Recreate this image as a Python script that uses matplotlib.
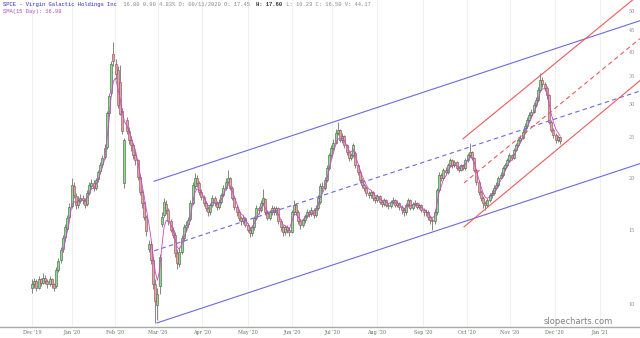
import matplotlib
matplotlib.use('Agg')
import matplotlib.pyplot as plt
import matplotlib.transforms as mtransforms
import numpy as np
import pandas as pd

# daily candles, SPCE, Dec '19 .. Dec '20
opens = [
    11.0, 11.2, 11.4, 11.0, 11.5, 11.3, 11.6, 11.4, 11.2, 11.5, 11.2,
    11.1, 12.1, 12.8, 13.6, 14.5, 15.2, 16.2, 17.2, 19.2, 18.2,
    17.3, 17.7, 18.0, 17.8, 17.4, 18.5, 19.2, 19.5, 19.0, 19.9,
    20.8, 21.6, 22.5,
    23.8, 28.6, 32.0, 39.5, 37.5, 36.2, 34.0, 29.0,
    19.5, 27.5, 26.0, 24.7, 24.0, 22.7, 22.1, 20.2, 18.6, 17.5, 16.2, 13.6, 14.0, 12.8, 11.2, 10.0, 11.1, 15.6, 16.4,
    17.4, 16.8, 15.8, 15.1, 14.7, 13.3, 12.5, 13.4, 14.4, 15.3,
    15.6, 16.0, 17.5, 19.2, 20.0, 19.5, 18.6, 18.1, 17.5, 17.0,
    16.6, 17.3, 18.0, 17.5, 17.1, 17.6, 18.3, 19.0, 19.6, 20.0,
    19.0, 18.0, 17.1, 16.6, 16.1, 15.8, 16.1, 15.5, 15.1, 14.8,
    15.3, 16.1, 17.0, 16.8, 17.5, 17.9, 16.6, 16.1, 16.6, 17.0,
    16.6, 17.0, 15.8, 15.3, 14.9, 15.3, 15.1, 14.9, 16.6, 17.3,
    16.6, 15.8, 15.5, 15.9, 16.3, 16.6, 16.5, 16.8, 16.4, 17.0,
    17.6, 19.2, 19.0, 19.8, 21.2, 22.7, 23.6, 24.3, 25.7, 26.1,
    24.7, 25.2, 24.0, 23.1, 22.4, 22.7, 23.0, 21.5, 20.7, 19.8,
    19.3, 19.0, 18.5, 18.3, 18.6, 18.0, 17.8, 18.2, 17.6, 17.4,
    17.8, 17.3, 17.2, 17.6, 17.8, 17.3, 17.5, 17.1, 16.8, 16.6,
    17.3, 17.8, 17.0, 17.4, 17.5, 17.1, 17.3, 16.8, 16.6, 16.6,
    16.2, 15.9, 15.8, 16.6, 18.8, 20.4, 20.0, 21.0, 20.7, 21.5,
    22.1, 21.5, 21.9, 21.2, 21.0, 21.5, 21.2, 22.1, 22.7, 23.1,
    22.4, 21.0, 19.6, 18.6, 18.0, 17.5, 17.3, 17.8, 18.3, 18.5,
    19.0, 19.3, 20.1, 20.4, 21.2, 21.5, 22.1, 22.7, 22.4, 23.4,
    24.0, 24.7, 25.0, 25.8, 26.7, 27.6, 28.3, 28.8, 29.9, 30.7,
    32.5, 34.3, 33.5, 32.8, 31.6, 27.2, 26.1, 25.4, 24.7, 25.1,
]
highs = [
    11.5, 11.6, 11.5, 11.7, 11.6, 11.9, 11.8, 11.5, 11.7, 11.6, 11.3,
    12.3, 12.9, 13.7, 14.7, 15.6, 16.4, 17.5, 20.0, 19.6, 18.5,
    18.2, 18.4, 18.3, 18.0, 18.8, 19.6, 19.9, 19.8, 20.1, 21.0,
    21.9, 22.8, 24.1,
    29.0, 32.0, 38.0, 42.3, 38.5, 37.0, 37.2, 29.5,
    25.0, 28.0, 26.5, 25.2, 24.3, 23.2, 22.3, 20.5, 18.9, 17.7, 16.4, 14.3, 14.2, 13.0, 11.5, 11.0, 13.2, 16.6, 18.0,
    17.8, 17.0, 16.0, 15.3, 14.9, 13.6, 13.7, 14.7, 15.6, 15.8,
    16.2, 17.8, 19.6, 20.6, 20.4, 19.7, 18.9, 18.3, 17.7, 17.2,
    17.5, 18.3, 18.2, 17.7, 17.9, 18.5, 19.3, 20.0, 21.0, 20.2,
    19.2, 18.2, 17.3, 16.8, 16.3, 16.4, 16.2, 15.7, 15.3, 15.5,
    16.3, 17.3, 17.2, 17.8, 18.9, 18.0, 16.8, 16.8, 17.3, 17.2,
    17.2, 17.1, 16.0, 15.5, 15.5, 15.5, 15.3, 16.8, 17.8, 17.5,
    16.8, 16.0, 16.1, 16.5, 16.9, 16.8, 17.1, 17.0, 17.3, 18.3,
    19.5, 19.6, 20.2, 21.5, 23.0, 24.0, 24.8, 26.2, 27.3, 26.3,
    25.6, 25.4, 24.2, 23.3, 23.0, 24.3, 23.2, 21.7, 20.9, 20.0,
    19.5, 19.2, 18.7, 18.8, 18.7, 18.2, 18.4, 18.3, 17.8, 18.0,
    17.9, 17.5, 17.8, 18.1, 17.9, 17.8, 17.6, 17.3, 17.0, 17.5,
    18.0, 17.9, 17.6, 17.8, 17.6, 17.5, 17.4, 17.0, 16.9, 16.8,
    16.3, 16.1, 16.8, 19.0, 20.7, 20.6, 21.2, 21.3, 21.8, 22.4,
    22.2, 22.1, 22.0, 21.4, 21.7, 21.7, 22.4, 23.0, 24.3, 23.3,
    22.5, 21.1, 19.8, 18.8, 18.2, 17.7, 18.0, 18.5, 18.8, 19.3,
    19.6, 20.3, 20.7, 21.4, 21.8, 22.4, 23.0, 22.9, 23.7, 24.3,
    25.0, 25.4, 26.2, 27.1, 28.0, 28.8, 29.3, 30.4, 31.3, 33.0,
    35.6, 34.8, 34.0, 33.2, 31.8, 27.5, 26.4, 25.7, 25.4, 25.3,
]
lows = [
    10.7, 11.0, 10.8, 10.9, 11.1, 11.2, 11.2, 11.0, 11.1, 11.0, 10.8,
    11.0, 12.0, 12.6, 13.4, 14.2, 15.0, 16.0, 17.0, 18.0, 16.9,
    17.0, 17.5, 17.4, 17.0, 17.2, 18.3, 18.9, 18.7, 18.8, 19.6,
    20.5, 21.3, 22.2,
    23.5, 28.2, 31.5, 37.0, 34.5, 29.5, 28.3, 25.5,
    19.0, 25.5, 24.2, 23.3, 22.2, 21.5, 19.8, 18.3, 17.0, 15.9, 14.6, 13.4, 12.5, 10.9, 9.06, 9.2, 10.6, 15.3, 16.2,
    16.5, 15.5, 14.9, 14.4, 13.0, 12.2, 12.3, 13.2, 14.2, 15.0,
    15.3, 15.8, 17.3, 18.9, 19.1, 18.3, 17.8, 17.2, 16.7, 16.3,
    16.4, 17.1, 17.2, 16.8, 16.9, 17.4, 18.1, 18.8, 19.4, 18.8,
    17.8, 16.8, 16.3, 15.8, 15.5, 15.6, 15.3, 14.9, 14.5, 14.6,
    15.1, 15.9, 16.5, 16.6, 17.3, 16.4, 15.9, 15.9, 16.4, 16.4,
    16.4, 15.6, 15.0, 14.6, 14.7, 14.8, 14.6, 14.8, 16.4, 16.4,
    15.6, 15.2, 15.3, 15.7, 16.1, 16.2, 16.3, 16.1, 16.2, 16.8,
    17.4, 18.6, 18.8, 19.6, 21.0, 22.4, 23.3, 24.1, 25.4, 24.4,
    24.3, 23.7, 22.8, 22.0, 22.1, 22.5, 21.2, 20.4, 19.5, 19.0,
    18.7, 18.2, 18.0, 18.0, 17.7, 17.5, 17.6, 17.4, 17.1, 17.2,
    17.1, 16.9, 17.0, 17.4, 17.1, 17.1, 16.8, 16.5, 16.3, 16.4,
    17.1, 16.8, 16.8, 17.2, 16.9, 16.9, 16.6, 16.3, 16.3, 15.9,
    15.6, 15.1, 15.6, 16.4, 18.6, 19.7, 19.8, 20.4, 20.5, 21.3,
    21.2, 21.3, 20.9, 20.7, 20.8, 20.9, 21.0, 21.9, 22.5, 22.1,
    20.7, 19.3, 18.3, 17.7, 17.0, 16.8, 17.1, 17.6, 18.0, 18.3,
    18.8, 19.1, 19.9, 20.2, 21.0, 21.3, 21.9, 22.1, 22.2, 23.2,
    23.8, 24.4, 24.8, 25.5, 26.4, 27.3, 28.0, 28.6, 29.6, 30.4,
    32.2, 33.0, 32.3, 31.0, 26.9, 25.8, 25.0, 24.3, 24.4, 24.2,
]
closes = [
    11.2, 11.4, 11.0, 11.5, 11.3, 11.6, 11.4, 11.2, 11.5, 11.2, 11.0,
    12.1, 12.7, 13.5, 14.4, 15.3, 16.1, 17.1, 19.3, 18.3, 17.3,
    17.8, 18.0, 17.8, 17.3, 18.5, 19.3, 19.5, 19.0, 19.8, 20.7,
    21.5, 22.4, 23.6,
    28.6, 31.5, 37.5, 38.0, 35.5, 30.0, 28.5, 26.0,
    24.7, 26.0, 24.7, 24.0, 22.7, 22.1, 20.2, 18.6, 17.5, 16.2, 15.0, 14.0, 12.8, 11.2, 10.2, 10.6, 13.0, 16.2, 17.6,
    16.8, 15.8, 15.1, 14.7, 13.3, 12.6, 13.4, 14.4, 15.3, 15.5,
    15.9, 17.5, 19.3, 20.1, 19.5, 18.6, 18.1, 17.5, 17.0, 16.6,
    17.3, 18.0, 17.5, 17.1, 17.6, 18.3, 19.0, 19.6, 20.1, 19.0,
    18.0, 17.1, 16.6, 16.1, 15.8, 16.1, 15.5, 15.1, 14.8, 15.3,
    16.1, 17.0, 16.8, 17.5, 18.0, 16.6, 16.1, 16.6, 17.0, 16.6,
    17.0, 15.8, 15.3, 14.9, 15.3, 15.1, 14.9, 16.6, 17.3, 16.6,
    15.8, 15.5, 15.9, 16.3, 16.6, 16.5, 16.8, 16.4, 17.0, 18.0,
    19.2, 19.0, 19.8, 21.2, 22.7, 23.6, 24.3, 25.7, 26.1, 24.7,
    25.2, 24.0, 23.1, 22.4, 22.7, 24.0, 21.5, 20.7, 19.8, 19.3,
    19.0, 18.5, 18.3, 18.6, 18.0, 17.8, 18.2, 17.6, 17.4, 17.8,
    17.3, 17.2, 17.6, 17.8, 17.3, 17.5, 17.1, 16.8, 16.6, 17.3,
    17.8, 17.0, 17.4, 17.5, 17.1, 17.3, 16.8, 16.6, 16.6, 16.2,
    15.9, 15.8, 16.6, 18.8, 20.4, 20.0, 21.0, 20.7, 21.5, 22.1,
    21.5, 21.9, 21.2, 21.0, 21.5, 21.2, 22.1, 22.7, 23.1, 22.4,
    21.0, 19.6, 18.6, 18.0, 17.5, 17.3, 17.8, 18.3, 18.5, 19.0,
    19.3, 20.1, 20.4, 21.2, 21.5, 22.1, 22.7, 22.4, 23.4, 24.0,
    24.7, 25.0, 25.8, 26.7, 27.6, 28.3, 28.8, 29.9, 30.7, 32.5,
    34.3, 33.5, 32.8, 31.6, 27.2, 26.1, 25.4, 24.7, 25.1, 24.6,
]

month_labels = ["Dec '19", "Jan '20", "Feb '20", "Mar '20", "Apr '20", "May '20", "Jun '20",
                "Jul '20", "Aug '20", "Sep '20", "Oct '20", "Nov '20", "Dec '20", "Jan '21"]
month_pos = [0, 18.2, 37.7, 57.3, 77.3, 98.2, 118.2, 136.4, 156.8, 177.7, 197.7, 217.3, 237.7, 258.2]
price_ticks = [10, 15, 20, 25, 30, 35, 40, 45, 50]

# drawn trend lines: (x0, p0, x1, p1) in bar index / price
blue_channel = [(55.5, 19.7, 276.4, 47.5), (55.5, 13.45, 276.4, 32.3), (56.8, 9.06, 276.4, 21.7)]
red_channel = [(195.9, 24.85, 276.4, 55.0), (196.4, 19.52, 276.4, 43.05), (196.4, 15.34, 276.4, 34.2)]

W, H = 640, 338
fig = plt.figure(figsize=(W / 100, H / 100), dpi=100)
fig.patch.set_facecolor('white')
ax = fig.add_axes([0, 11 / H, 1, 327 / H])
ax.set_yscale('log')

df = pd.DataFrame({'o': opens, 'h': highs, 'l': lows, 'c': closes})
idx = np.arange(len(df))
up = df.c >= df.o

ax.vlines(idx, df.l, df.h, color='#555555', lw=0.5, zorder=2)
body_lo = np.minimum(df.o, df.c)
body_hi = np.maximum(df.o, df.c)
ax.bar(idx[up], (body_hi - body_lo)[up], bottom=body_lo[up], width=0.9,
       color='#8fd88f', edgecolor='#4d6b4d', lw=0.45, zorder=3)
ax.bar(idx[~up], (body_hi - body_lo)[~up], bottom=body_lo[~up], width=0.9,
       color='#e9a0a0', edgecolor='#8a5a5a', lw=0.45, zorder=3)

sma = df.c.ewm(span=4, adjust=False, min_periods=15).mean()
ax.plot(idx, sma, color='#cc44cc', lw=0.6, zorder=4)

for k, (x0, p0, x1, p1) in enumerate(blue_channel):
    ax.plot([x0, x1], [p0, p1], color='#6a6ae0', lw=0.8,
            ls=(0, (4, 3)) if k == 1 else '-', zorder=5)
for k, (x0, p0, x1, p1) in enumerate(red_channel):
    ax.plot([x0, x1], [p0, p1], color='#ee5a5a', lw=0.8,
            ls=(0, (4, 3)) if k == 1 else '-', zorder=5)

ax.set_xlim(-14.55, 276.4)
ax.set_ylim(8.86, 53.2)

for s in ['top', 'left', 'right']:
    ax.spines[s].set_visible(False)
ax.spines['bottom'].set_color('#aaaaaa')
ax.spines['bottom'].set_linewidth(1.0)

ax.set_xticks(month_pos)
ax.set_xticklabels(month_labels, fontsize=3.5, color='#5a7a5a', family='DejaVu Serif')
ax.tick_params(axis='x', length=0, pad=2.5)
ax.set_yticks([])
ax.yaxis.set_minor_locator(matplotlib.ticker.NullLocator())
ax.grid(axis='x', color='#eeeeee', lw=0.6, zorder=0)

trans = mtransforms.blended_transform_factory(ax.transAxes, ax.transData)
for p in price_ticks:
    ax.text(632 / W, p, str(p), transform=trans, ha='center', va='center',
            fontsize=3.5, color='#888888', family='DejaVu Serif')

# header
mono = 'Liberation Mono'
cw = 3.333 / W
head = [("SPCE - Virgin Galactic Holdings Inc", '#2e2eb8', 'normal'),
        (" 16.80 0.90 4.83% D: 09/11/2020 O: 17.45 ", '#888888', 'normal'),
        ("H: 17.60", '#333333', 'bold'),
        (" L: 16.23 C: 16.50 V: 44.17", '#888888', 'normal')]
pos = 0
for txt, col, wt in head:
    fig.text(3 / W + pos * cw, 1 - 4.5 / H, txt, fontsize=4, family=mono, color=col,
             weight=wt, va='center', ha='left')
    pos += len(txt)
fig.text(3 / W, 1 - 11.5 / H, "SMA(15 Day): 16.98", fontsize=4, family=mono,
         color='#b04cb0', va='center', ha='left')

fig.text(578 / W, 1 - 321 / H, 'slopecharts.com', fontsize=6, color='#808080',
         ha='center', va='center')

fig.savefig('out.png', dpi=100, facecolor='white')
